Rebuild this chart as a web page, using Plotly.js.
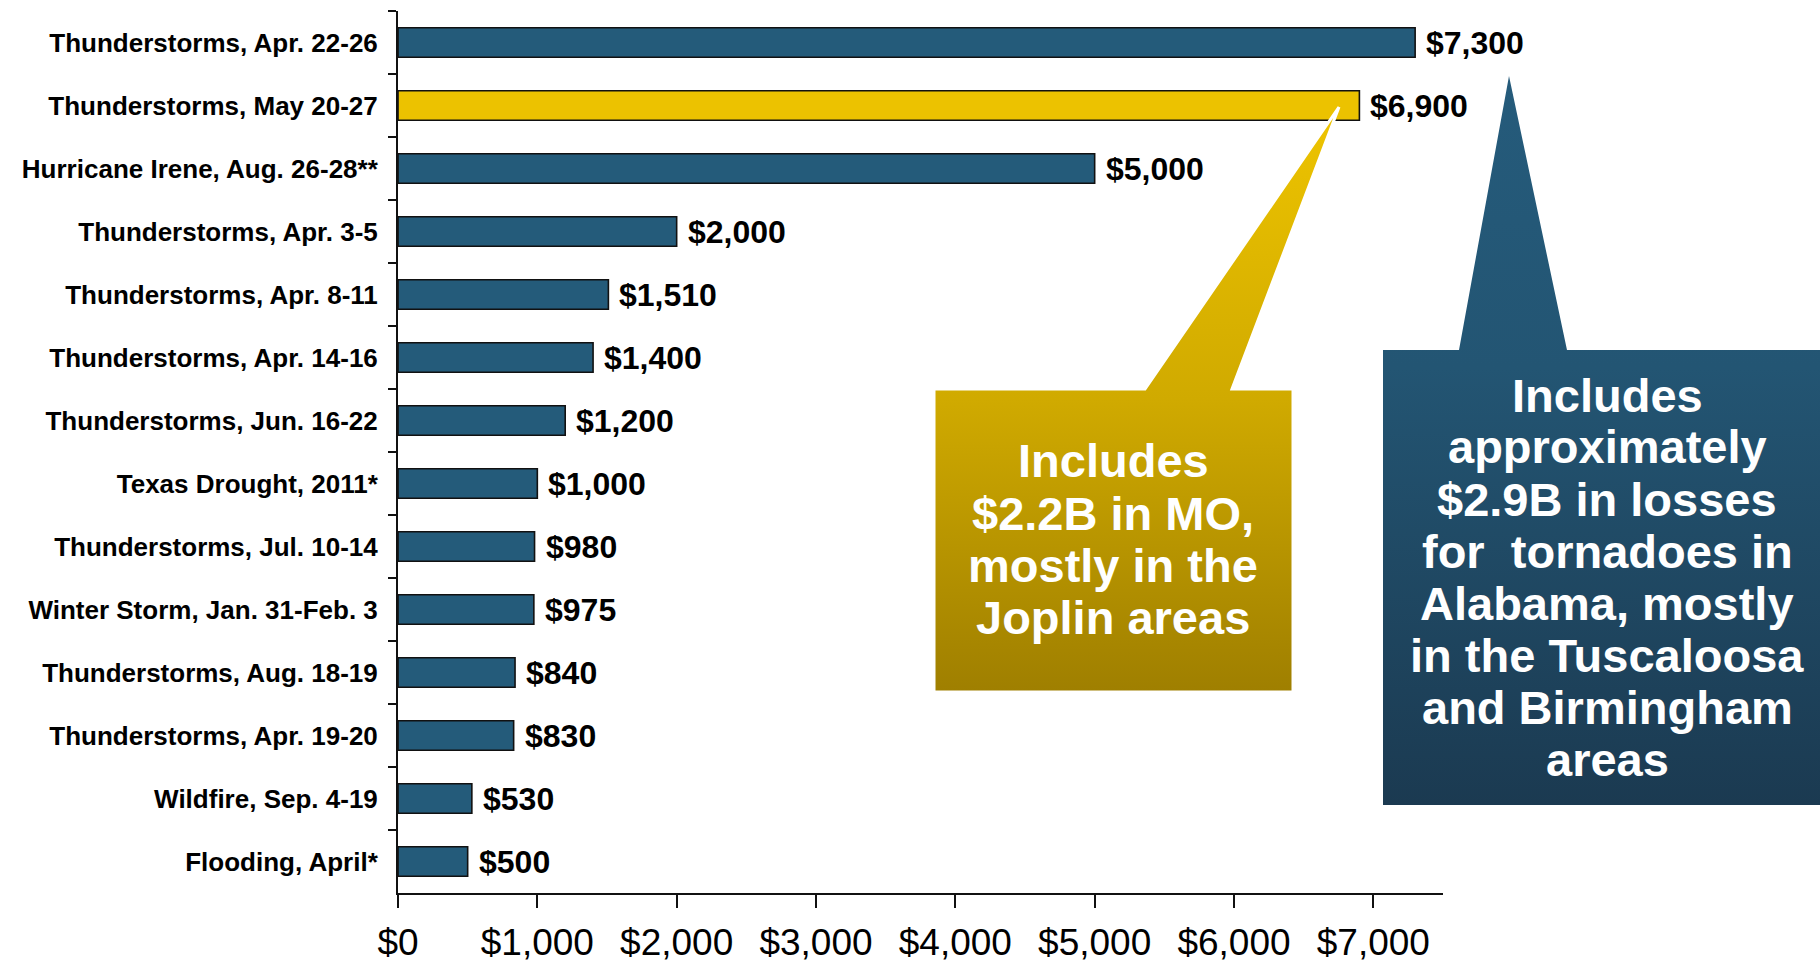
<!DOCTYPE html>
<html>
<head>
<meta charset="utf-8">
<script src="https://cdn.plot.ly/plotly-3.0.1.min.js"></script>
<style>
  html, body { margin: 0; padding: 0; background: #ffffff; }
  #chart { width: 1820px; height: 967px; }
</style>
</head>
<body>
<div id="chart"></div>
<script>
// ---- data ----
const categories = [
  "Thunderstorms, Apr. 22-26",
  "Thunderstorms, May 20-27",
  "Hurricane Irene, Aug. 26-28**",
  "Thunderstorms, Apr. 3-5",
  "Thunderstorms, Apr. 8-11",
  "Thunderstorms, Apr. 14-16",
  "Thunderstorms, Jun. 16-22",
  "Texas Drought, 2011*",
  "Thunderstorms, Jul. 10-14",
  "Winter Storm, Jan. 31-Feb. 3",
  "Thunderstorms, Aug. 18-19",
  "Thunderstorms, Apr. 19-20",
  "Wildfire, Sep. 4-19",
  "Flooding, April*"
];
const losses = [7300, 6900, 5000, 2000, 1510, 1400, 1200, 1000, 980, 975, 840, 830, 530, 500];
const highlighted = "Thunderstorms, May 20-27";
const xTickValues = [0, 1000, 2000, 3000, 4000, 5000, 6000, 7000];
const xTickLabels = ["$0", "$1,000", "$2,000", "$3,000", "$4,000", "$5,000", "$6,000", "$7,000"];
const yellowNote = ["Includes", "$2.2B in MO,", "mostly in the", "Joplin areas"];
const blueNote = ["Includes", "approximately", "$2.9B in losses", "for  tornadoes in", "Alabama, mostly", "in the Tuscaloosa", "and Birmingham", "areas"];

// ---- style ----
const W = 1820, H = 967;
const FONT = "'Liberation Sans', Arial, Helvetica, sans-serif";
const BAR_BLUE = "#245b7a";
const BAR_GOLD = "#ecc200";
const plotLeft = 398, plotRight = 1443, plotTop = 11, plotBottom = 893;

const barColors = categories.map(c => c === highlighted ? BAR_GOLD : BAR_BLUE);
const fmt = v => "$" + v.toLocaleString("en-US");

const bars = {
  type: "bar",
  orientation: "h",
  x: losses,
  y: categories,
  marker: { color: barColors, line: { color: "#111111", width: 1.6 } },
  hoverinfo: "x+y",
  xaxis: "x", yaxis: "y"
};

// callout shapes (decorative, pixel space on an overlay axis)
const yellowCallout = {
  type: "scatter", mode: "lines", xaxis: "x2", yaxis: "y2",
  x: [934, 1145, 1339, 1232, 1293, 1293, 934, 934],
  y: [389, 389, 107, 389, 389, 692, 692, 389],
  fill: "toself",
  fillcolor: "#c9a400",
  fillgradient: { type: "vertical", start: 107, stop: 692,
    colorscale: [[0, "#eec400"], [0.5, "#d0aa00"], [1, "#9f7f00"]] },
  line: { color: "#ffffff", width: 3 },
  hoverinfo: "skip", showlegend: false
};
const blueCallout = {
  type: "scatter", mode: "lines", xaxis: "x2", yaxis: "y2",
  x: [1383, 1459, 1509, 1567, 1820, 1820, 1383, 1383],
  y: [350, 350, 76, 350, 350, 805, 805, 350],
  fill: "toself",
  fillcolor: "#22506d",
  fillgradient: { type: "vertical", start: 76, stop: 805,
    colorscale: [[0, "#255b7b"], [0.4, "#235573"], [1, "#1b3a51"]] },
  line: { color: "rgba(0,0,0,0)", width: 0 },
  hoverinfo: "skip", showlegend: false
};

const annotations = [];
categories.forEach((c, i) => {
  annotations.push({
    x: losses[i], y: c, xref: "x", yref: "y",
    text: fmt(losses[i]), showarrow: false,
    xanchor: "left", yanchor: "middle", xshift: 9,
    font: { family: FONT, size: 32, color: "#000000", weight: 700 }
  });
});
const yellowY0 = 461, blueY0 = 395, lineStep = 52;
yellowNote.forEach((t, i) => {
  annotations.push({
    x: 1113 / W, y: 1 - (yellowY0 + i * lineStep) / H, xref: "paper", yref: "paper",
    text: t, showarrow: false, xanchor: "center", yanchor: "middle",
    font: { family: FONT, size: 47, color: "#ffffff", weight: 700 }
  });
});
blueNote.forEach((t, i) => {
  annotations.push({
    x: 1607 / W, y: 1 - (blueY0 + i * lineStep) / H, xref: "paper", yref: "paper",
    text: t.replace(/  /g, " &nbsp;"), showarrow: false, xanchor: "center", yanchor: "middle",
    font: { family: FONT, size: 47, color: "#ffffff", weight: 700 }
  });
});

const layout = {
  width: W, height: H,
  margin: { l: 0, r: 0, t: 0, b: 0 },
  paper_bgcolor: "#ffffff",
  plot_bgcolor: "rgba(0,0,0,0)",
  showlegend: false,
  bargap: 0.53,
  font: { family: FONT, color: "#000000" },
  xaxis: {
    domain: [plotLeft / W, plotRight / W],
    range: [0, 7500],
    tickvals: xTickValues, ticktext: xTickLabels,
    ticks: "outside", ticklen: 13, tickwidth: 2, tickcolor: "#111111",
    showline: true, linecolor: "#111111", linewidth: 2,
    showgrid: false, zeroline: false,
    tickangle: 0, ticklabelstandoff: 3,
    tickfont: { family: FONT, size: 37, color: "#000000" },
    automargin: false, fixedrange: true
  },
  yaxis: {
    domain: [1 - plotBottom / H, 1 - plotTop / H],
    autorange: "reversed",
    type: "category",
    ticks: "outside", ticklen: 8, tickwidth: 2, tickcolor: "#111111",
    tickson: "boundaries",
    showline: true, linecolor: "#111111", linewidth: 2,
    showgrid: false, zeroline: false,
    ticklabelstandoff: 13,
    tickfont: { family: FONT, size: 26, color: "#000000", weight: 700 },
    automargin: false, fixedrange: true
  },
  xaxis2: { domain: [0, 1], range: [0, W], visible: false, fixedrange: true, anchor: "y2" },
  yaxis2: { domain: [0, 1], range: [H, 0], visible: false, fixedrange: true, anchor: "x2" },
  annotations: annotations
};

Plotly.newPlot("chart", [bars, yellowCallout, blueCallout], layout, { displayModeBar: false, staticPlot: true });
</script>
</body>
</html>
